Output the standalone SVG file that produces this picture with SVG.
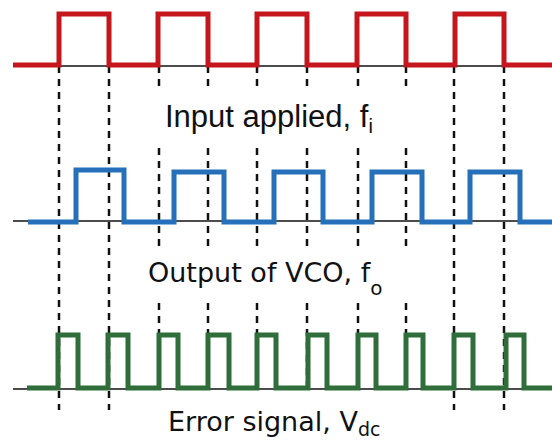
<svg xmlns="http://www.w3.org/2000/svg" width="552" height="443" viewBox="0 0 552 443">
<style>
.base{stroke:#111;stroke-width:1.5;fill:none}
.wave{fill:none;stroke-width:5;stroke-linejoin:miter;stroke-linecap:butt}
.dash{stroke:#111;stroke-width:2.5;stroke-dasharray:7 6;fill:none}
.lbl1{font-family:"Liberation Sans",Arial,sans-serif;font-size:31px;fill:#111}
.lbl2{font-family:"DejaVu Sans",sans-serif;font-size:27px;fill:#111}
</style>
<rect width="552" height="443" fill="#fff"/>
<g id="connectors">
<path class="dash" d="M59,66V410M109,66V410M454,66V410M504,66V410"/>
<path class="dash" d="M159,66V90M208,66V90M257,66V90M307,66V90M358,66V90M406,66V90"/>
<path class="dash" d="M159,148V246M208,148V246M257,148V246M307,148V246M358,148V246M406,148V246"/>
<path class="dash" d="M159,303V390M208,303V390M257,303V390M307,303V390M358,303V390M406,303V390"/>
</g>
<g id="input">
<path class="base" d="M59,66H504"/>
<path class="wave" stroke="#c4161c" d="M13,65H59V14H109V65H158V14H208V65H257V14H307V65H357V14H406V65H455V14H504V65H552"/>
<text class="lbl1" x="165" y="127">Input applied, f<tspan font-size="20" dy="6">i</tspan></text>
</g>
<g id="vco">
<path class="base" d="M13,221H520"/>
<path class="wave" stroke="#2570b8" d="M28,222H76V170H124V222H174V172H224V222H274V172H323V222H372V172H422V222H470V172H520V222H552"/>
<text class="lbl2" x="148" y="282" font-size="28">Output of VCO, f<tspan font-size="20" dy="13">o</tspan></text>
</g>
<g id="error">
<path class="base" d="M13,389H530"/>
<path class="wave" stroke="#2f6e3a" stroke-width="4.5" d="M27,388H58V335H78V388H108V335H128V388H159V335H178V388H208V335H229V388H257V335H276V388H308V335H327V388H358V335H376V388H406V335H423V388H454V335H473V388H506V335H524V388H552"/>
<text class="lbl2" x="168" y="431" font-size="30">Error signal, V<tspan font-size="19" dy="5">dc</tspan></text>
</g>
</svg>
